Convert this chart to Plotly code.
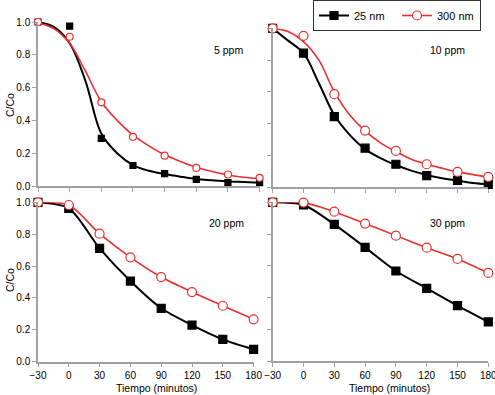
import plotly.graph_objects as go

W, H = 495, 395

times = [-30, 0, 30, 60, 90, 120, 150, 180]
fit_times = [-30, -15, 0, 15, 30, 45, 60, 75, 90, 105, 120, 135, 150, 165, 180]
y_ticks = [0.0, 0.2, 0.4, 0.6, 0.8, 1.0]
x_ticks = [-30, 0, 30, 60, 90, 120, 150, 180]

# 5 ppm
p5_25 = [1.0, 0.975, 0.29, 0.125, 0.075, 0.04, 0.02, 0.02]
p5_300 = [1.0, 0.91, 0.51, 0.30, 0.185, 0.11, 0.07, 0.05]
p5_25_fit = [1.0, 0.97, 0.87, 0.64, 0.32, 0.20, 0.128, 0.093, 0.073, 0.057, 0.043, 0.035, 0.028, 0.024, 0.02]
p5_300_fit = [0.995, 0.96, 0.87, 0.70, 0.514, 0.40, 0.31, 0.245, 0.19, 0.15, 0.114, 0.088, 0.067, 0.053, 0.045]

# 10 ppm
p10_25 = [1.0, 0.844, 0.445, 0.246, 0.145, 0.073, 0.044, 0.019]
p10_300 = [1.0, 0.953, 0.586, 0.357, 0.229, 0.145, 0.097, 0.065]
p10_25_fit = [1.0, 0.923, 0.844, 0.655, 0.455, 0.33, 0.24, 0.183, 0.14, 0.105, 0.078, 0.057, 0.042, 0.027, 0.019]
p10_300_fit = [1.0, 0.98, 0.917, 0.80, 0.60, 0.455, 0.355, 0.28, 0.225, 0.176, 0.145, 0.12, 0.097, 0.08, 0.065]

# 20 ppm
p20_25 = [1.0, 0.962, 0.711, 0.506, 0.335, 0.23, 0.14, 0.077]
p20_300 = [1.0, 0.983, 0.803, 0.655, 0.531, 0.437, 0.351, 0.266]

# 30 ppm
p30_25 = [1.0, 0.983, 0.861, 0.716, 0.567, 0.458, 0.349, 0.246]
p30_300 = [1.0, 0.998, 0.941, 0.866, 0.79, 0.714, 0.643, 0.555]

BLACK = "#000000"
RED = "#e8302e"
AXC = "#a0a0a0"
FONT = "Liberation Sans, Arial, sans-serif"

# panel pixel boxes: (x_left(-30), x_right(180), y_top(1.0), y_bottom(0.0))
panels = {
    1: (38, 259.6, 22, 186),
    2: (272.7, 488.3, 28.4, 187.3),
    3: (38, 253.6, 202.3, 361.7),
    4: (272.7, 488.3, 202.3, 361),
}

fig = go.Figure()


def add_fit(ax, xs, ys, color, width):
    fig.add_trace(go.Scatter(x=xs, y=ys, mode="lines", line=dict(color=color, width=width, shape="spline", smoothing=1.0),
                             xaxis="x" + ax, yaxis="y" + ax, showlegend=False, hoverinfo="skip", cliponaxis=False))


def add_pts(ax, ys, symbol, color, size, fill, name=None, lines=False, lw=2):
    fig.add_trace(go.Scatter(
        x=times, y=ys, mode="lines+markers" if lines else "markers",
        line=dict(color=color, width=lw, shape="spline", smoothing=0.8),
        marker=dict(symbol=symbol, size=size, color=fill, line=dict(color=color, width=1.2)),
        xaxis="x" + ax, yaxis="y" + ax, name=name, showlegend=name is not None, cliponaxis=False))


# panel 1 - 5 ppm
add_fit("", fit_times, p5_25_fit, BLACK, 2)
add_fit("", fit_times, p5_300_fit, RED, 1.6)
add_pts("", p5_25, "square", BLACK, 6, BLACK)
add_pts("", p5_300, "circle", RED, 7, "white")

# panel 2 - 10 ppm
add_fit("2", fit_times, p10_25_fit, BLACK, 2)
add_fit("2", fit_times, p10_300_fit, RED, 1.6)
add_pts("2", p10_25, "square", BLACK, 8, BLACK)
add_pts("2", p10_300, "circle", RED, 9, "white")

# panel 3 - 20 ppm
add_pts("3", p20_25, "square", BLACK, 8, BLACK, name="25 nm", lines=True, lw=2)
add_pts("3", p20_300, "circle", RED, 9, "white", name="300 nm", lines=True, lw=1.6)

# panel 4 - 30 ppm
add_pts("4", p30_25, "square", BLACK, 8, BLACK, lines=True, lw=2)
add_pts("4", p30_300, "circle", RED, 9, "white", lines=True, lw=1.6)

layout = dict(
    width=W, height=H, margin=dict(l=0, r=0, t=0, b=0, pad=0, autoexpand=False),
    paper_bgcolor="white", plot_bgcolor="white",
    font=dict(family=FONT, size=10, color="black"),
    legend=dict(orientation="h", x=313 / W, y=1.0, xanchor="left", yanchor="top",
                bordercolor="#333", borderwidth=1, bgcolor="white",
                font=dict(size=11), itemwidth=30, tracegroupgap=0,
                entrywidth=38, entrywidthmode="pixels"),
)

for i, (xl, xr, yt, yb) in panels.items():
    sfx = "" if i == 1 else str(i)
    bottom = i in (3, 4)
    left = i in (1, 3)
    layout["xaxis" + sfx] = dict(
        domain=[xl / W, xr / W], range=[-30, 180], anchor="y" + sfx,
        tickvals=x_ticks, showticklabels=bottom, ticks="outside", ticklen=4, tickcolor=AXC,
        showline=True, linecolor=AXC, linewidth=1.5, showgrid=False, zeroline=False,
        tickfont=dict(size=10), automargin=False, ticklabeloverflow="allow",
    )
    layout["yaxis" + sfx] = dict(
        domain=[1 - yb / H, 1 - yt / H], range=[0, 1.0], anchor="x" + sfx,
        tickvals=y_ticks, tickformat=".1f", showticklabels=left, ticks="outside", ticklen=4, tickcolor=AXC,
        showline=True, linecolor=AXC, linewidth=1.5, showgrid=False, zeroline=False,
        tickfont=dict(size=10), automargin=False, ticklabeloverflow="allow",
    )

fig.update_layout(**layout)

ann = [
    ("5 ppm", 228, 50, 0), ("10 ppm", 447, 50, 0), ("20 ppm", 226, 223, 0), ("30 ppm", 447, 223, 0),
    ("C/Co", 10, 105, -90), ("C/Co", 10, 280, -90),
    ("Tiempo (minutos)", 156, 388, 0), ("Tiempo (minutos)", 389, 388, 0),
]
for txt, px, py, ang in ann:
    fig.add_annotation(text=txt, x=px / W, y=1 - py / H, xref="paper", yref="paper",
                       showarrow=False, textangle=ang, font=dict(size=10.5, family=FONT),
                       xanchor="center", yanchor="middle")

fig.write_html("out.html", config={"displayModeBar": False},
               post_script="document.body.style.margin='0';document.body.style.overflow='hidden';")
